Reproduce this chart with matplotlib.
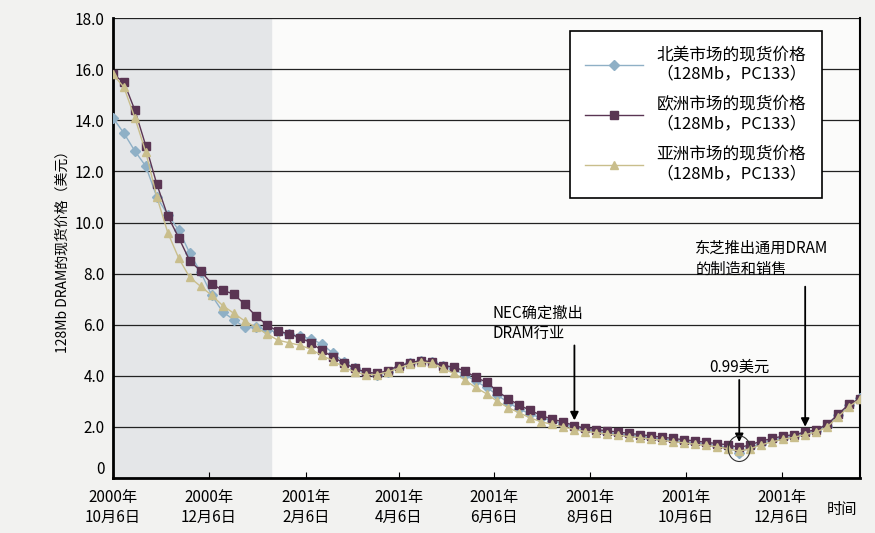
import matplotlib
matplotlib.use("Agg")
import matplotlib.pyplot as plt
import matplotlib.dates as mdates
from matplotlib.patches import Ellipse
import numpy as np
import datetime as dt

plt.rcParams['font.family'] = ['Noto Sans CJK SC', 'DejaVu Sans']

start = dt.date(2000, 10, 6)
north_america = [14.1,13.5,12.8,12.2,11.0,10.3,9.7,8.8,8.05,7.15,6.5,6.2,5.9,5.9,5.8,5.7,5.65,5.55,5.45,5.25,4.9,4.55,4.3,4.1,4.05,4.15,4.35,4.5,4.6,4.55,4.4,
                 4.25,4.05,3.8,3.55,3.25,2.95,2.7,2.5,2.35,2.25,2.1,2.0,
                 1.88,1.84,1.78,1.73,1.68,1.63,1.58,1.53,1.48,1.43,1.38,1.33,1.27,1.2,0.99,1.2,1.35,1.48,1.58,1.65,1.75,1.85,2.05,2.45,2.85,3.15]
europe = [15.8,15.5,14.4,13.0,11.5,10.25,9.4,8.5,8.1,7.6,7.35,7.2,6.8,6.35,6.0,5.75,5.65,5.5,5.3,5.0,4.75,4.5,4.3,4.15,4.1,4.2,4.4,4.5,4.6,4.55,4.4,
          4.35,4.2,3.95,3.75,3.4,3.1,2.85,2.65,2.45,2.3,2.2,2.05,
          1.95,1.9,1.85,1.8,1.75,1.7,1.65,1.6,1.55,1.5,1.45,1.4,1.35,1.3,1.2,1.3,1.45,1.55,1.65,1.7,1.8,1.9,2.1,2.5,2.9,3.1]
asia = [15.8,15.3,14.1,12.75,11.0,9.6,8.6,7.85,7.5,7.15,6.75,6.45,6.15,5.9,5.65,5.4,5.3,5.2,5.05,4.8,4.6,4.35,4.15,4.05,4.05,4.15,4.3,4.45,4.55,4.5,4.3,
        4.1,3.85,3.55,3.3,3.0,2.75,2.55,2.35,2.2,2.1,2.0,1.9,
        1.82,1.78,1.72,1.68,1.62,1.58,1.52,1.48,1.42,1.38,1.32,1.28,1.22,1.15,1.05,1.15,1.3,1.42,1.52,1.6,1.7,1.8,2.0,2.4,2.8,3.1]
dates = [start + dt.timedelta(days=7*i) for i in range(len(europe))]
tick_dates = [dt.date(2000,10,6), dt.date(2000,12,6), dt.date(2001,2,6), dt.date(2001,4,6),
              dt.date(2001,6,6), dt.date(2001,8,6), dt.date(2001,10,6), dt.date(2001,12,6)]
tick_labels = ["2000年\n10月6日","2000年\n12月6日","2001年\n2月6日","2001年\n4月6日",
               "2001年\n6月6日","2001年\n8月6日","2001年\n10月6日","2001年\n12月6日"]
series_names = ["北美市场的现货价格\n（128Mb，PC133）", "欧洲市场的现货价格\n（128Mb，PC133）", "亚洲市场的现货价格\n（128Mb，PC133）"]

fig = plt.figure(figsize=(8.75, 5.33), dpi=100)
fig.patch.set_facecolor('#f2f2f0')
ax = fig.add_axes([0.129, 0.103, 0.854, 0.863])
ax.set_facecolor('#fbfbfa')
x0 = mdates.date2num(start)
xend = mdates.date2num(dt.date(2002, 1, 25))
ax.set_xlim(x0, xend)
ax.set_ylim(0, 18)
ax.axvspan(x0, mdates.date2num(dt.date(2001,1,15)), color='#e4e6e8', zorder=0)
for yv in np.arange(2, 18.1, 2):
    ax.axhline(yv, color='#222222', lw=0.9, zorder=1)

ax.plot(dates, north_america, color='#8fb0c6', marker='D', ms=5, lw=1, zorder=3, label=series_names[0])
ax.plot(dates, europe, color='#5a3553', marker='s', ms=5.5, lw=1, zorder=4, label=series_names[1])
ax.plot(dates, asia, color='#c9be8c', marker='^', ms=6, lw=1, zorder=5, label=series_names[2])

ax.set_xticks([mdates.date2num(d) for d in tick_dates])
ax.set_xticklabels(tick_labels, fontsize=11, linespacing=1.2)
ax.set_yticks(np.arange(0, 18.1, 2))
ax.set_yticklabels(["0"] + ["%.1f" % v for v in np.arange(2, 18.1, 2)], fontsize=11)
ax.get_yticklabels()[0].set_va('bottom')
ax.tick_params(axis='x', direction='in', length=4, pad=8)
ax.tick_params(axis='y', length=0, pad=6)
for s in ['left', 'bottom']:
    ax.spines[s].set_linewidth(2)
ax.spines['right'].set_linewidth(1.5)
ax.spines['top'].set_visible(False)
ax.set_ylabel("128Mb DRAM的现货价格（美元）", fontsize=10)
fig.text(0.945, 0.045, "时间", fontsize=11, ha='left', va='center')

leg = ax.legend(loc='upper right', bbox_to_anchor=(0.96, 0.99), fontsize=12, frameon=True,
                fancybox=False, edgecolor='black', facecolor='white', framealpha=1,
                handlelength=3.5, labelspacing=0.8, borderpad=0.9)
leg.get_frame().set_linewidth(1.2)

def arrow(d, ytop, ybot):
    xd = mdates.date2num(d)
    ax.annotate("", xy=(xd, ybot), xytext=(xd, ytop),
                arrowprops=dict(arrowstyle='-|>', color='black', lw=1.3, mutation_scale=12), zorder=6)

arrow(dates[42], 5.3, 2.15)
ax.text(mdates.date2num(dates[42]) - 52, 6.05, "NEC确定撤出\nDRAM行业", fontsize=11, ha='left', va='center', linespacing=1.2)
arrow(dates[57], 3.95, 1.3)
ax.text(mdates.date2num(dates[57]), 4.0, "0.99美元", fontsize=11, ha='center', va='bottom')
arrow(dates[63], 7.6, 1.9)
ax.text(mdates.date2num(dates[63]) - 70, 8.6, "东芝推出通用DRAM\n的制造和销售", fontsize=11, ha='left', va='center', linespacing=1.3)
ax.add_patch(Ellipse((mdates.date2num(dates[57]), 1.15), 14, 1.0, fill=False, color='#333333', lw=0.8, zorder=7))

fig.savefig("out.png", dpi=100, facecolor=fig.get_facecolor())
